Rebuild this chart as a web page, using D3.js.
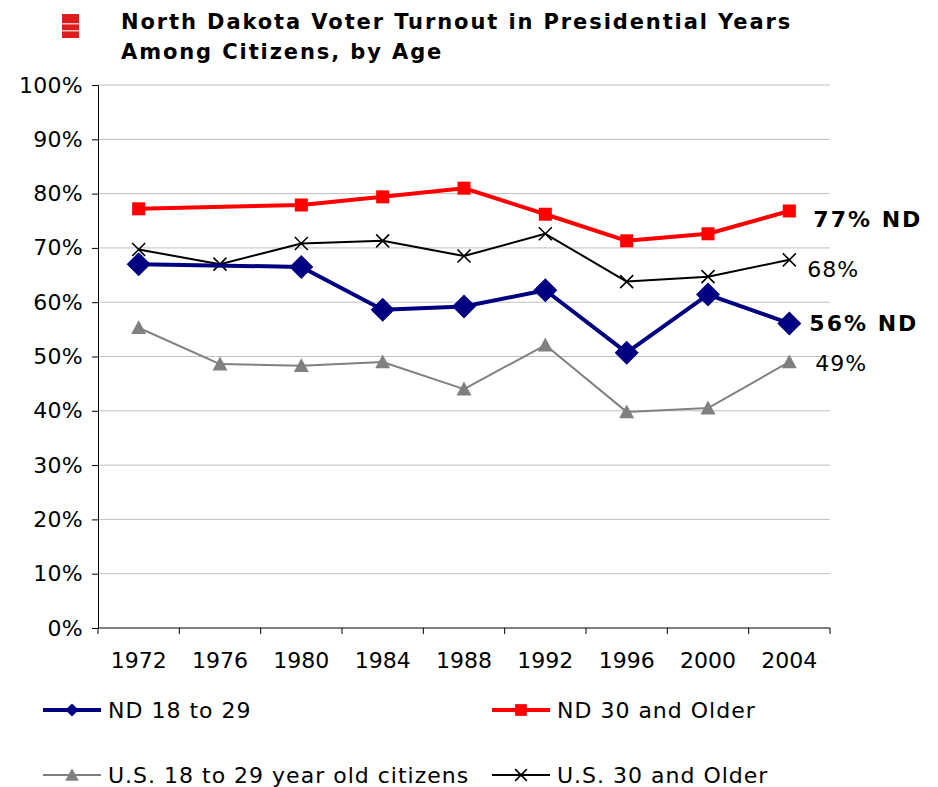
<!DOCTYPE html>
<html>
<head>
<meta charset="utf-8">
<script src="https://cdn.jsdelivr.net/npm/d3@7"></script>
<style>
  body { margin: 0; background: #fff; }
  svg { display: block; }
</style>
</head>
<body>
<script>
// chart data
var years = ["1972", "1976", "1980", "1984", "1988", "1992", "1996", "2000", "2004"];
var nd18to29 = [67.0, null, 66.5, 58.6, 59.2, 62.2, 50.7, 61.4, 56.1];
var nd30plus = [77.2, null, 77.9, 79.4, 81.0, 76.2, 71.3, 72.6, 76.8];
var us18to29 = [55.3, 48.6, 48.3, 49.0, 44.0, 52.1, 39.8, 40.5, 49.0];
var us30plus = [69.7, 67.0, 70.8, 71.3, 68.5, 72.6, 63.8, 64.7, 67.8];
var yTicks = [0, 10, 20, 30, 40, 50, 60, 70, 80, 90, 100];
var titleLines = ["North Dakota Voter Turnout in Presidential Years", "Among Citizens, by Age"];

var svgWidth = 938;
var svgHeight = 787;
var font = "'DejaVu Sans', Verdana, sans-serif";

var svg = d3.select("body").append("svg")
  .attr("width", svgWidth)
  .attr("height", svgHeight)
  .attr("font-family", font);

// title and little red icon
var icon = svg.append("g");
icon.append("rect").attr("x", 62).attr("y", 14).attr("width", 17).attr("height", 24).attr("fill", "#dd1c1c");
icon.append("rect").attr("x", 62).attr("y", 23).attr("width", 17).attr("height", 1.5).attr("fill", "#f6c0c0");
icon.append("rect").attr("x", 62).attr("y", 30).attr("width", 17).attr("height", 1.5).attr("fill", "#f6c0c0");

svg.append("g").selectAll("text")
  .data(titleLines)
  .enter()
  .append("text")
  .attr("x", 121)
  .attr("y", (d, i) => 29 + i * 30)
  .attr("font-size", 21)
  .attr("letter-spacing", 1.9)
  .attr("font-weight", "bold")
  .attr("fill", "#000")
  .text(d => d);

// scales
var x = d3.scaleBand().domain(years).range([98, 830]).padding(0);
var y = d3.scaleLinear().domain([0, 100]).range([628, 85]);
var cx = d => x(d) + x.bandwidth() / 2;

// grid
svg.append("g").selectAll("line")
  .data(yTicks.filter(d => d > 0))
  .enter()
  .append("line")
  .attr("x1", 98).attr("x2", 830)
  .attr("y1", d => y(d)).attr("y2", d => y(d))
  .attr("stroke", "#c0c0c0")
  .attr("stroke-width", 1);

// y axis
var leftAxis = d3.axisLeft(y).tickValues(yTicks).tickFormat(d => d + "%").tickSize(6).tickPadding(9);
var gy = svg.append("g").attr("transform", "translate(98,0)").call(leftAxis);
gy.select(".domain").attr("stroke", "#000");
gy.selectAll("text").attr("font-size", 22).attr("font-family", font).attr("fill", "#000").attr("letter-spacing", 0.3);

// x axis: ticks between categories
var xb = svg.append("g");
xb.append("line").attr("x1", 98).attr("x2", 830).attr("y1", 628).attr("y2", 628).attr("stroke", "#000");
xb.selectAll(".tk")
  .data(d3.range(years.length + 1))
  .enter()
  .append("line")
  .attr("x1", i => 98 + i * x.bandwidth())
  .attr("x2", i => 98 + i * x.bandwidth())
  .attr("y1", 628).attr("y2", 634)
  .attr("stroke", "#000");
xb.selectAll("text")
  .data(years)
  .enter()
  .append("text")
  .attr("x", d => cx(d))
  .attr("y", 668)
  .attr("text-anchor", "middle")
  .attr("font-size", 22)
  .text(d => d);

// series
function pts(vals) {
  return years.map((yr, i) => ({ yr: yr, v: vals[i] })).filter(d => d.v != null);
}
var line = d3.line().x(d => cx(d.yr)).y(d => y(d.v));

var series = [
  { name: "U.S. 18 to 29 year old citizens", vals: us18to29, color: "#808080", width: 2, marker: "triangle" },
  { name: "U.S. 30 and Older", vals: us30plus, color: "#000000", width: 2, marker: "cross" },
  { name: "ND 18 to 29", vals: nd18to29, color: "#000080", width: 4, marker: "diamond" },
  { name: "ND 30 and Older", vals: nd30plus, color: "#ff0000", width: 4, marker: "square" }
];

function drawMarker(g, type, color, px, py, scale) {
  scale = scale || 1;
  if (type === "diamond") {
    var s = 12 * scale;
    g.append("path").attr("d", `M${px},${py - s}L${px + s},${py}L${px},${py + s}L${px - s},${py}Z`).attr("fill", color);
  } else if (type === "square") {
    var s2 = 6.5 * scale;
    g.append("rect").attr("x", px - s2).attr("y", py - s2).attr("width", s2 * 2).attr("height", s2 * 2).attr("fill", color);
  } else if (type === "triangle") {
    var s3 = 7.5 * scale;
    g.append("path").attr("d", `M${px},${py - s3}L${px + s3},${py + s3 * 0.85}L${px - s3},${py + s3 * 0.85}Z`).attr("fill", color);
  } else if (type === "cross") {
    var s4 = 6.5 * scale;
    g.append("path").attr("d", `M${px - s4},${py - s4}L${px + s4},${py + s4}M${px - s4},${py + s4}L${px + s4},${py - s4}`)
      .attr("stroke", color).attr("stroke-width", 1.6).attr("fill", "none");
  }
}

series.forEach(function(s) {
  var data = pts(s.vals);
  var g = svg.append("g");
  g.append("path")
    .datum(data)
    .attr("d", line)
    .attr("fill", "none")
    .attr("stroke", s.color)
    .attr("stroke-width", s.width)
    .attr("stroke-linejoin", "round");
  data.forEach(d => drawMarker(g, s.marker, s.color, cx(d.yr), y(d.v)));
});

// end labels
var endLabels = [
  { text: "77% ND", v: nd30plus[8], dx: 24, dy: 16, bold: true },
  { text: "68%", v: us30plus[8], dx: 18, dy: 17, bold: false },
  { text: "56% ND", v: nd18to29[8], dx: 20, dy: 8, bold: true },
  { text: "49%", v: us18to29[8], dx: 26, dy: 9, bold: false }
];
svg.append("g").selectAll("text")
  .data(endLabels)
  .enter()
  .append("text")
  .attr("x", d => cx("2004") + d.dx)
  .attr("y", d => y(d.v) + d.dy)
  .attr("font-size", 22)
  .attr("letter-spacing", d => d.bold ? 2 : 1)
  .attr("font-weight", d => d.bold ? "bold" : "normal")
  .attr("fill", "#000")
  .text(d => d.text);

// legend
var legendItems = [
  { s: series[2], lx: 43, ly: 710 },
  { s: series[3], lx: 492, ly: 710 },
  { s: series[0], lx: 43, ly: 775 },
  { s: series[1], lx: 492, ly: 775 }
];
var lg = svg.append("g");
legendItems.forEach(function(it) {
  var g = lg.append("g");
  g.append("line")
    .attr("x1", it.lx).attr("x2", it.lx + 58)
    .attr("y1", it.ly).attr("y2", it.ly)
    .attr("stroke", it.s.color)
    .attr("stroke-width", it.s.width);
  drawMarker(g, it.s.marker, it.s.color, it.lx + 29, it.ly, it.s.marker === "diamond" ? 0.55 : 0.9);
  g.append("text")
    .attr("x", it.lx + 65)
    .attr("y", it.ly + 8)
    .attr("font-size", 22)
    .attr("letter-spacing", 1)
    .attr("fill", "#000")
    .text(it.s.name);
});
</script>
</body>
</html>
